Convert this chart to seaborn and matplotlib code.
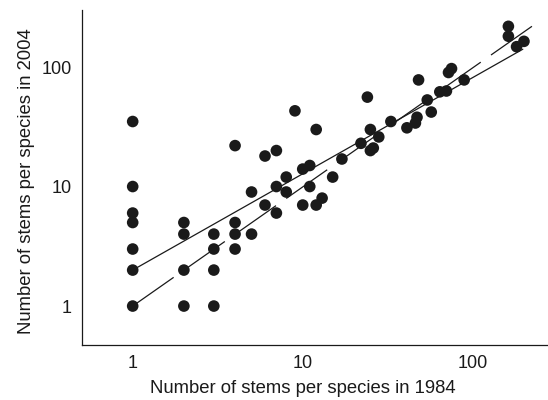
import matplotlib
matplotlib.use("Agg")
import matplotlib.pyplot as plt
import seaborn as sns
import pandas as pd

# Data (stems per species, 1984 vs 2004)
stems_1984 = [1, 1, 1, 1, 1, 1, 1,
              2, 2, 2, 2,
              3, 3, 3, 3,
              4, 4, 4, 4,
              5, 5,
              6, 6,
              7, 7, 7,
              8, 8,
              9,
              10, 10,
              11, 11,
              12, 12,
              13, 15, 17, 22, 24, 25, 25, 26, 28, 33,
              41, 46, 47, 48, 54, 57, 64, 70, 72, 75, 89,
              162, 162, 181, 200]
stems_2004 = [35, 10, 6, 5, 3, 2, 1,
              5, 4, 2, 1,
              4, 3, 2, 1,
              22, 5, 4, 3,
              9, 4,
              18, 7,
              20, 10, 6,
              12, 9,
              43,
              14, 7,
              15, 10,
              30, 7,
              8, 12, 17, 23, 56, 30, 20, 21, 26, 35,
              31, 34, 38, 78, 53, 42, 62, 63, 90, 97, 78,
              219, 181, 148, 164]

# Fitted line endpoints (log-log straight lines)
fit_x = [1, 197]
fit_y = [2, 141]
one_x = [1, 233]
one_y = [1, 229]

df = pd.DataFrame({"x": stems_1984, "y": stems_2004})

sns.set_style("white")
plt.rcParams["font.family"] = ["Liberation Sans", "DejaVu Sans"]

fig = plt.figure(figsize=(5.48, 4.00), dpi=100)
ax = fig.add_axes([0.149, 0.138, 0.851, 0.837])

ax.set_xscale("log")
ax.set_yscale("log")

sns.lineplot(x=fit_x, y=fit_y, ax=ax, color="#1a1a1a", linewidth=0.9,
             estimator=None, sort=False, zorder=2)
sns.lineplot(x=one_x, y=one_y, ax=ax, color="#1a1a1a", linewidth=0.9,
             estimator=None, sort=False, zorder=2, dashes=False)
ax.lines[-1].set_dashes((40, 10))

sns.scatterplot(data=df, x="x", y="y", ax=ax, s=70, color="#1a1a1a",
                edgecolor="none", linewidth=0, zorder=3)

ax.set_xlim(0.501, 277)
ax.set_ylim(0.474, 300)

ax.set_xticks([1, 10, 100])
ax.set_xticklabels(["1", "10", "100"])
ax.set_yticks([1, 10, 100])
ax.set_yticklabels(["1", "10", "100"])
ax.minorticks_off()
ax.tick_params(axis="both", direction="in", length=5, width=0.9,
               labelsize=13, colors="#1a1a1a", pad=7)
ax.tick_params(axis="x", pad=7)

for side in ["top", "right"]:
    ax.spines[side].set_visible(False)
for side in ["left", "bottom"]:
    ax.spines[side].set_color("#1a1a1a")
    ax.spines[side].set_linewidth(0.9)

ax.set_xlabel("Number of stems per species in 1984", fontsize=13.3, color="#1a1a1a")
ax.set_ylabel("Number of stems per species in 2004", fontsize=13.3, color="#1a1a1a")
ax.xaxis.set_label_coords(0.474, -0.105)
ax.yaxis.set_label_coords(-0.10, 0.49)

fig.savefig("out.png", dpi=100)
